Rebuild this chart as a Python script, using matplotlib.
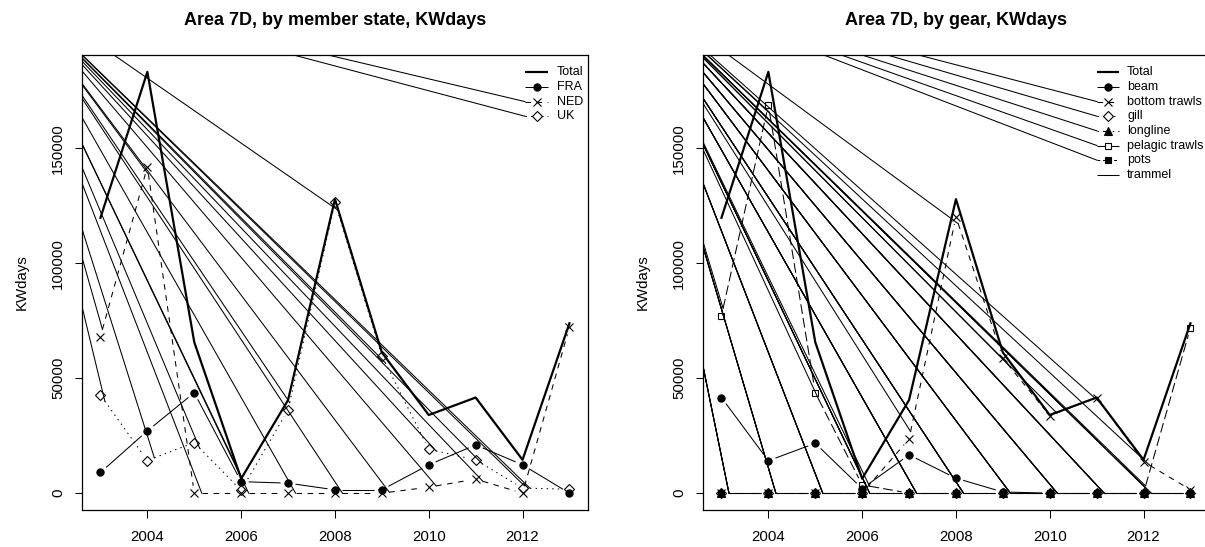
import matplotlib
matplotlib.use("Agg")
import matplotlib.pyplot as plt
import numpy as np

plt.rcParams["font.family"] = ["Liberation Sans", "DejaVu Sans"]
plt.rcParams["lines.scale_dashes"] = False

years = [2003, 2004, 2005, 2006, 2007, 2008, 2009, 2010, 2011, 2012, 2013]
total = [119800, 183300, 65700, 6300, 40500, 127900, 61200, 34000, 41600, 14500, 73900]

# by member state
fra = [9000, 27100, 43700, 5000, 4350, 1450, 1450, 12300, 21000, 12300, 0]
ned = [68100, 142000, 0, 0, 0, 0, 0, 2600, 6100, 0, 72200]
uk = [42700, 14200, 22000, 1200, 36200, 126500, 59700, 19100, 14500, 2200, 1700]

# by gear
beam = [41600, 14100, 21700, 2000, 16650, 6500, 500, 0, 0, 0, 0]
bottom_trawls = [0, 0, 0, 0, 23600, 120300, 58700, 33700, 41600, 13700, 1500]
gill = [0, 0, 0, 0, 0, 0, 0, 0, 0, 0, 0]
longline = [0, 0, 0, 0, 0, 0, 0, 0, 0, 0, 0]
pelagic_trawls = [77200, 168900, 43700, 3600, 0, 0, 0, 0, 0, 0, 72000]
pots = [0, 0, 0, 0, 0, 0, 0, 0, 0, 0, 0]
trammel = [0, 0, 0, 0, 0, 0, 0, 0, 0, 0, 0]

# R line types (dash lengths in points)
LTY = {1: "-", 2: (0, (4, 4)), 3: (0, (1, 3)), 4: (0, (1, 3, 4, 3)),
       5: (0, (7, 3)), 6: (0, (2, 2, 6, 2))}
# R pch -> matplotlib marker, size, filled
PCH = {16: ("o", 5.2, True), 4: ("x", 5.6, False), 5: ("D", 4.6, False),
       17: ("^", 6.0, True), 0: ("s", 5.0, False), 15: ("s", 5.0, True)}

W, H = 1205, 547
DPI = 100
GAP = 7.5          # px gap around points (type = "b")
LW = 0.75
ORIGIN_OFF = (-79, 77)   # px from frame top-left where stray lines start

fig = plt.figure(figsize=(W / DPI, H / DPI), dpi=DPI)


def make_axes(left_px, title):
    ax = fig.add_axes([left_px / W, (H - 510) / H, 506.5 / W, 455 / H])
    pad = 0.04 * max(total)
    ax.set_xlim(2003 - 0.4, 2013 + 0.4)
    ax.set_ylim(-pad, max(total) + pad)
    ax.set_xticks([2004, 2006, 2008, 2010, 2012])
    ax.set_yticks([0, 50000, 100000, 150000])
    ax.tick_params(direction="out", length=5.4, width=0.75, labelsize=10.8)
    ax.tick_params(axis="x", pad=9)
    ax.tick_params(axis="y", pad=6.5)
    for lab in ax.get_yticklabels():
        lab.set_rotation(90)
        lab.set_va("center")
    for s in ax.spines.values():
        s.set_linewidth(0.9)
    ax.set_title(title, fontsize=13, fontweight="bold", pad=21.6)
    ax.set_ylabel("KWdays", fontsize=10.8)
    ax.yaxis.set_label_coords(-0.105, 0.5)
    return ax


def origin(ax):
    o = ax.transAxes.transform((0, 1)) + np.array(ORIGIN_OFF)
    return ax.transData.inverted().transform(o)


def stray(ax, start):
    o = origin(ax)
    ax.plot([o[0], start[0]], [o[1], start[1]], color="black", lw=LW)


def series_b(ax, y, lty, pch):
    pts = ax.transData.transform(np.column_stack([years, y]))
    inv = ax.transData.inverted()
    for p0, p1 in zip(pts[:-1], pts[1:]):
        d = np.hypot(*(p1 - p0))
        if d <= 2 * GAP:
            continue
        u = (p1 - p0) / d
        seg = inv.transform([p0 + GAP * u, p1 - GAP * u])
        ax.plot(seg[:, 0], seg[:, 1], color="black", lw=LW, linestyle=LTY[lty],
                solid_capstyle="butt", dash_capstyle="butt")
        if lty != 1:
            stray(ax, seg[0])
    if pch is not None:
        m, ms, filled = PCH[pch]
        ax.plot(years, y, linestyle="none", marker=m, markersize=ms,
                markerfacecolor="black" if filled else "none",
                markeredgecolor="black", markeredgewidth=0.8)


def legend(ax, entries, x0_px, x1_px, tx_px):
    fw = 506.5
    for i, (label, lty, pch, lw) in enumerate(entries):
        yf = 1 - (17.3 + 14.65 * i) / 455
        xa, xb, xt = x0_px / fw, x1_px / fw, tx_px / fw
        ax.plot([xa, xb], [yf, yf], transform=ax.transAxes, color="black", lw=lw,
                linestyle=LTY[lty], solid_capstyle="butt")
        if pch is not None:
            m, ms, filled = PCH[pch]
            ax.plot([(xa + xb) / 2], [yf], transform=ax.transAxes, marker=m,
                    markersize=ms, markerfacecolor="black" if filled else "white",
                    markeredgecolor="black", markeredgewidth=0.8)
        ax.text(xt, yf, label, transform=ax.transAxes, fontsize=9, va="center", ha="left")
        if lty != 1:
            p = ax.transAxes.transform((xa, yf))
            stray(ax, ax.transData.inverted().transform(p))


# left panel
ax1 = make_axes(81.7, "Area 7D, by member state, KWdays")
ax1.plot(years, total, color="black", lw=1.6)
series_b(ax1, fra, 1, 16)
series_b(ax1, ned, 2, 4)
series_b(ax1, uk, 3, 5)
legend(ax1, [("Total", 1, None, 1.6), ("FRA", 1, 16, LW), ("NED", 2, 4, LW),
             ("UK", 3, 5, LW)], 443.3, 466.6, 475)

# right panel
ax2 = make_axes(702.7, "Area 7D, by gear, KWdays")
ax2.plot(years, total, color="black", lw=1.6)
series_b(ax2, beam, 1, 16)
series_b(ax2, bottom_trawls, 2, 4)
series_b(ax2, gill, 3, 5)
series_b(ax2, longline, 4, 17)
series_b(ax2, pelagic_trawls, 5, 0)
series_b(ax2, pots, 6, 15)
series_b(ax2, trammel, 1, None)
legend(ax2, [("Total", 1, None, 1.6), ("beam", 1, 16, LW), ("bottom trawls", 2, 4, LW),
             ("gill", 3, 5, LW), ("longline", 4, 17, LW), ("pelagic trawls", 5, 0, LW),
             ("pots", 6, 15, LW), ("trammel", 1, None, LW)], 394.3, 416.3, 424.3)

fig.savefig("out.png", dpi=DPI)
